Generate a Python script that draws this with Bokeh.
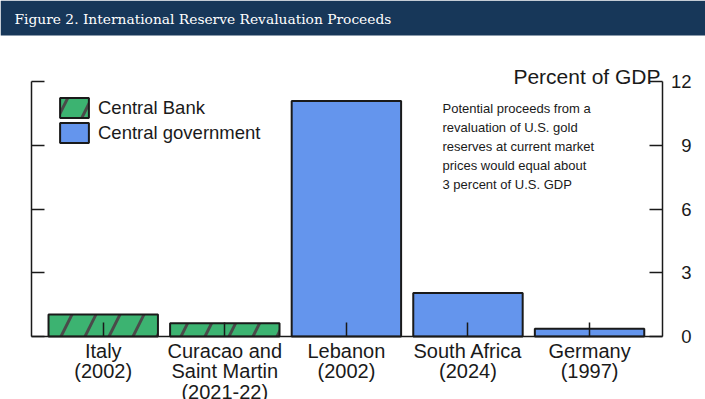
from bokeh.plotting import figure
from bokeh.models import (Range1d, LinearAxis, FixedTicker, Label, Legend,
                          LegendItem, ColumnDataSource, BoxAnnotation)
from bokeh.embed import file_html
from bokeh.resources import INLINE

# ---------------- data ----------------
categories = ["Italy\n(2002)", "Curacao and\nSaint Martin\n(2021-22)", "Lebanon\n(2002)",
              "South Africa\n(2024)", "Germany\n(1997)"]
values = [1.03, 0.62, 11.08, 2.05, 0.36]
holders = ["Central Bank", "Central Bank", "Central government",
           "Central government", "Central government"]
y_ticks = [0, 3, 6, 9, 12]
y_tick_labels = ["0", "3", "6", "9", "12"]
note_lines = ["Potential proceeds from a",
              "revaluation of U.S. gold",
              "reserves at current market",
              "prices would equal about",
              "3 percent of U.S. GDP"]
title_text = "Figure 2. International Reserve Revaluation Proceeds"
unit_text = "Percent of GDP"

NAVY = "#173759"
GREEN = "#3cb371"
BLUE = "#6495ed"
INK = "#1a1a1a"
SANS = "Liberation Sans"

xs = [i + 1 for i in range(len(categories))]

# ---------------- layout geometry (pixels) ----------------
W, H = 705, 399
FL, FR, FT, FB = 31, 662, 81, 336          # plot-area edges on the canvas
X0, X1, Y0, Y1 = 0.41, 5.6, 0, 12           # data extent of the plot area
ppx = (FR - FL) / (X1 - X0)
ppy = (FB - FT) / (Y1 - Y0)
def px2x(px): return X0 + (px - FL) / ppx
def py2y(py): return Y0 + (FB - py) / ppy

p = figure(width=W, height=H,
           x_range=Range1d(px2x(0), px2x(W)), y_range=Range1d(py2y(H), py2y(0)),
           toolbar_location=None, output_backend="svg",
           min_border=0, min_border_left=0, min_border_right=0,
           min_border_top=0, min_border_bottom=0,
           outline_line_color=None, x_axis_type=None, y_axis_type=None,
           background_fill_color="white", border_fill_color="white")

# title bar
p.add_layout(BoxAnnotation(bottom=py2y(35), fill_color=NAVY, fill_alpha=1.0,
                           line_color=None))
p.add_layout(Label(x=px2x(14), y=py2y(18), text=title_text, text_baseline="middle",
                   text_color="white", text_font="DejaVu Serif",
                   text_font_size="13.8px"))

# bars
cb_idx = [i for i, h in enumerate(holders) if h == "Central Bank"]
cg_idx = [i for i, h in enumerate(holders) if h == "Central government"]
src_cb = ColumnDataSource(dict(x=[xs[i] for i in cb_idx], top=[values[i] for i in cb_idx]))
src_cg = ColumnDataSource(dict(x=[xs[i] for i in cg_idx], top=[values[i] for i in cg_idx]))

r_cb = p.vbar(x="x", top="top", bottom=0, width=0.9, source=src_cb,
              fill_color=GREEN, line_color=INK, line_width=2,
              hatch_pattern="/", hatch_color="#4a4a4a", hatch_scale=48,
              hatch_weight=3)
r_cg = p.vbar(x="x", top="top", bottom=0, width=0.9, source=src_cg,
              fill_color=BLUE, line_color=INK, line_width=2)

def style_axis(ax):
    ax.axis_line_color = INK
    ax.axis_line_width = 1.5
    ax.major_tick_line_color = INK
    ax.major_tick_line_width = 1.5
    ax.major_tick_in = 13
    ax.major_tick_out = 0
    ax.minor_tick_line_color = None
    ax.major_label_text_font = SANS
    ax.major_label_text_color = INK

xaxis = LinearAxis(ticker=FixedTicker(ticks=xs), fixed_location=Y0, bounds=(X0, X1),
                   major_label_overrides={x: c for x, c in zip(xs, categories)})
style_axis(xaxis)
xaxis.major_tick_in = 14
xaxis.major_label_text_font_size = "20px"
xaxis.major_label_standoff = 3
xaxis.major_label_text_line_height = 0.95
p.add_layout(xaxis, "below")

laxis = LinearAxis(ticker=FixedTicker(ticks=y_ticks), fixed_location=X0, bounds=(Y0, Y1),
                   major_label_overrides={t: "" for t in y_ticks})
style_axis(laxis)
p.add_layout(laxis, "left")

raxis = LinearAxis(ticker=FixedTicker(ticks=y_ticks), fixed_location=X1, bounds=(Y0, Y1),
                   major_label_overrides={t: "" for t in y_ticks})
style_axis(raxis)
p.add_layout(raxis, "right")

# right-aligned tick labels beside the right axis
for t, lab in zip(y_ticks, y_tick_labels):
    p.add_layout(Label(x=px2x(691), y=t, text=lab, text_align="right",
                       text_baseline="middle", text_font=SANS,
                       text_font_size="18.5px", text_color=INK))

# unit label
p.add_layout(Label(x=px2x(660), y=py2y(75.7), text=unit_text, text_align="right",
                   text_baseline="alphabetic", text_font=SANS,
                   text_font_size="21px", text_color=INK))

legend = Legend(items=[LegendItem(label="Central Bank", renderers=[r_cb]),
                       LegendItem(label="Central government", renderers=[r_cg])],
                location=(56, H - 145), glyph_width=36, glyph_height=25,
                label_height=25, label_text_font=SANS,
                label_text_font_size="18.5px", label_text_color=INK,
                label_standoff=6, spacing=-3, padding=0, margin=0,
                border_line_color=None, background_fill_alpha=0)
p.add_layout(legend)

for i, line in enumerate(note_lines):
    p.add_layout(Label(x=px2x(442), y=py2y(108.3 + i * 18.9), text=line,
                       text_baseline="middle", text_align="left",
                       text_font=SANS, text_font_size="13px", text_color=INK))

open("out.html", "w").write(file_html(p, INLINE))
